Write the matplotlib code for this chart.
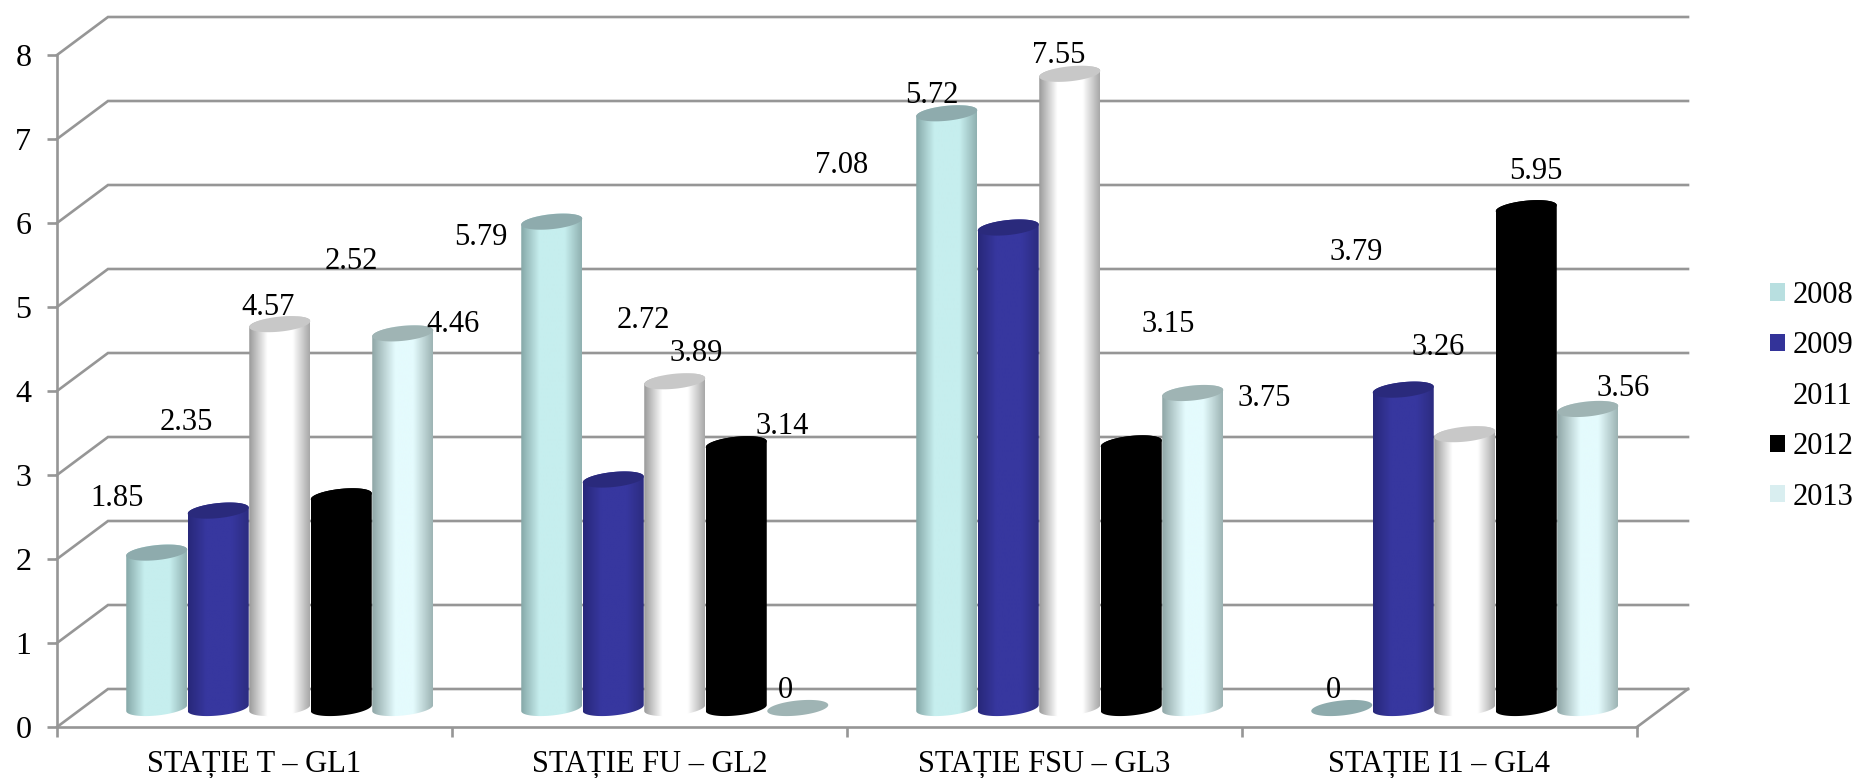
import numpy as np
import matplotlib
matplotlib.use('Agg')
import matplotlib.pyplot as plt
from matplotlib.colors import LinearSegmentedColormap
from matplotlib.patches import Patch, PathPatch, Polygon
from matplotlib.path import Path

plt.rcParams['font.family'] = ['Liberation Serif', 'DejaVu Serif']

categories = ['STAȚIE T – GL1', 'STAȚIE FU – GL2', 'STAȚIE FSU – GL3', 'STAȚIE I1 – GL4']
years = ['2008', '2009', '2011', '2012', '2013']
v2008 = [1.85, 5.79, 7.08, 0]
v2009 = [2.35, 2.72, 5.72, 3.79]
v2011 = [4.57, 3.89, 7.55, 3.26]
v2012 = [2.52, 3.14, 3.15, 5.95]
v2013 = [4.46, 0, 3.75, 3.56]
series = [v2008, v2009, v2011, v2012, v2013]
y_ticks = [0, 1, 2, 3, 4, 5, 6, 7, 8]

# label offsets from the top of each cylinder, in pixels (labels sit far off the bars in the original)
label_dx = [[-40, -71, -105, -8], [-32, 30, -76, -47], [-12, 21, -11, -27], [10, 46, 37, 10], [50, -12, 71, 35]]
label_dy = [[54, -16, -52, 18], [88, 159, 132, 137], [17, 28, 18, 87], [235, 18, 119, 37], [9, 18, -5, 20]]

# edge, centre, edge, top of the cylinder, legend square
body_left = ['#86a8a8', '#28287a', '#9a9a9a', '#000000', '#8fa6a6']
body_mid = ['#c6eeee', '#37379f', '#ffffff', '#000000', '#e4fbfd']
body_right = ['#8fb0b0', '#2c2c80', '#a8a8a8', '#000000', '#9db4b4']
top_color = ['#8eabad', '#2a2a7c', '#c8c8c8', '#000000', '#9fb4b4']
legend_color = ['#b8dfe0', '#333399', 'none', '#000000', '#d9eef0']
mid_from = [0.3, 0.3, 0.3, 0.3, 0.38]
mid_to = [0.72, 0.72, 0.72, 0.72, 0.68]
grid_color = '#969696'

W, H = 1854, 778
left, right, base, top = 57, 1637, 727, 55
px_x = (right - left) / 4
px_y = (base - top) / 8

fig = plt.figure(figsize=(W / 100, H / 100), dpi=100)
ax = fig.add_axes([left / W, (H - base) / H, (right - left) / W, (base - top) / H])

# side and back walls
depth_x = 51 / px_x
depth_y = 38 / px_y
for v in y_ticks:
    ax.plot([0, depth_x, 4 + depth_x], [v, v + depth_y, v + depth_y], color=grid_color, lw=1.9,
            clip_on=False, zorder=1, solid_joinstyle='miter')
ax.plot([4, 4 + depth_x], [0, depth_y], color=grid_color, lw=1.9, clip_on=False, zorder=1)

bar_w = 61.5 / px_x
start = 69 / px_x
mid_y = 19 / px_y
a = 30.5 / px_x
b = 7.5 / px_y
k = 3 / px_y
t = np.linspace(0, 2 * np.pi, 121)


def ellipse_xy(cx, cy, tt):
    return cx + a * np.cos(tt), cy + b * np.sin(tt) + k * np.cos(tt)


z = 3
for g in range(len(categories)):
    for s, vals in enumerate(series):
        v = vals[g]
        cx = g + start + (s + 0.5) * bar_w
        y0 = mid_y
        y1 = mid_y + v
        if v > 0:
            # lower half of the base ellipse, then straight up and across the top
            xb, yb = ellipse_xy(cx, y0, t[60:121])
            xt, yt = ellipse_xy(cx, y1, t[:61])
            verts = np.vstack([np.column_stack([xb, yb]), np.column_stack([xt, yt])])
            clip = PathPatch(Path(np.vstack([verts, verts[0]])), transform=ax.transData, fc='none', ec='none')
            ax.add_patch(clip)
            cmap = LinearSegmentedColormap.from_list('b', [(0, body_left[s]), (mid_from[s], body_mid[s]),
                                                           (mid_to[s], body_mid[s]), (1, body_right[s])])
            im = ax.imshow(np.linspace(0, 1, 128).reshape(1, -1), cmap=cmap, aspect='auto',
                           extent=[cx - a, cx + a, y0 - b - k, y1 + b + k], zorder=z, interpolation='bilinear')
            im.set_clip_path(clip)
        xe, ye = ellipse_xy(cx, y1, t)
        ax.add_patch(Polygon(np.column_stack([xe, ye]), closed=True, fc=top_color[s], ec='none', zorder=z + 0.5))
        z += 1
        ax.annotate(str(v), (cx, y1), xytext=(label_dx[s][g] * 0.72, label_dy[s][g] * 0.72),
                    textcoords='offset points', ha='center', va='center', fontsize=22, color='black',
                    zorder=100, annotation_clip=False)

ax.set_xlim(0, 4)
ax.set_ylim(0, 8)
for name in ['top', 'right']:
    ax.spines[name].set_visible(False)
for name in ['left', 'bottom']:
    ax.spines[name].set_color(grid_color)
    ax.spines[name].set_linewidth(1.9)
    ax.spines[name].set_zorder(2)
ax.patch.set_alpha(0)

ax.set_yticks(y_ticks)
ax.set_xticks(range(5))
ax.set_xticklabels([])
ax.set_xticks(np.arange(4) + 0.5, minor=True)
ax.set_xticklabels(categories, minor=True, fontsize=22)
ax.tick_params(axis='x', which='minor', length=0, pad=16)
ax.tick_params(axis='x', which='major', length=7.5, width=1.9, color=grid_color)
ax.tick_params(axis='y', length=7.5, width=1.9, color=grid_color, labelsize=23, pad=11)

handles = [Patch(fc=c, ec='none', label=y) for c, y in zip(legend_color, years)]
fig.legend(handles=handles, loc='upper left', bbox_to_anchor=(1770 / W, 1 - 281 / H), frameon=False,
           fontsize=22, handlelength=0.5, handleheight=0.5, handletextpad=0.25, labelspacing=0.7,
           borderpad=0, borderaxespad=0)

plt.savefig('out.png', dpi=100)
